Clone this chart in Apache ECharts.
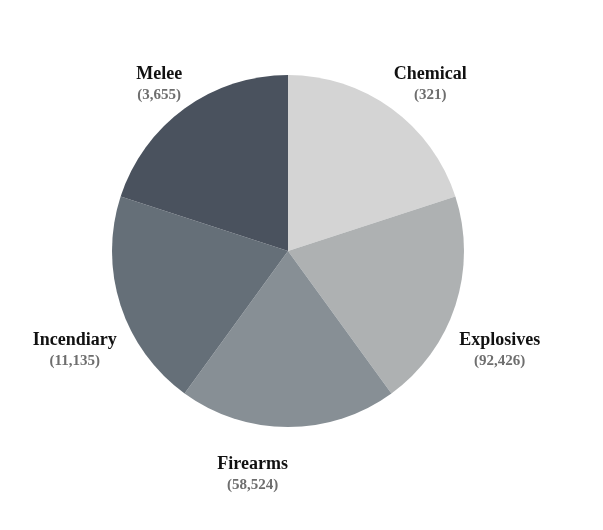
<!DOCTYPE html>
<html lang="en">
<head>
<meta charset="utf-8">
<title>Attack types</title>
<style>
  body { margin: 0; background: #fff; }
  #main { width: 603px; height: 530px; }
</style>
</head>
<body>
<div id="main"></div>
<script src="https://cdn.jsdelivr.net/npm/echarts@6/dist/echarts.min.js"></script>
<script type="text/javascript">
// categories, shown counts, slice weights (all slices drawn the same size)
var categories = ['Chemical', 'Explosives', 'Firearms', 'Incendiary', 'Melee'];
var counts = [321, 92426, 58524, 11135, 3655];
var weights = [1, 1, 1, 1, 1];
var colors = ['#d4d4d4', '#aeb1b2', '#878f95', '#656f78', '#4a525e'];

var cx = 288, cy = 251, radius = 176;
var labelR = 180;

var total = weights.reduce(function (a, b) { return a + b; }, 0);
// mid angle of every slice, degrees clockwise from 12 o'clock
var midAngles = [];
var acc = 0;
for (var i = 0; i < weights.length; i++) {
    midAngles.push((acc + weights[i] / 2) / total * 360);
    acc += weights[i];
}

var myChart = echarts.init(document.getElementById('main'));

var option = {
    animation: false,
    color: colors,
    series: [{
        type: 'pie',
        center: [cx, cy],
        radius: radius,
        startAngle: 90,
        clockwise: true,
        avoidLabelOverlap: false,
        silent: true,
        itemStyle: { borderWidth: 0 },
        labelLine: { show: false },
        label: {
            show: true,
            position: 'outside',
            formatter: function (p) {
                return '{n|' + p.name + '}\n{v|(' + counts[p.dataIndex].toLocaleString('en-US') + ')}';
            },
            rich: {
                n: {
                    fontFamily: 'Liberation Serif',
                    fontWeight: 'bold',
                    fontSize: 18,
                    color: '#111',
                    lineHeight: 21,
                    align: 'center'
                },
                v: {
                    fontFamily: 'Liberation Serif',
                    fontWeight: 'bold',
                    fontSize: 15,
                    color: '#6e6e6e',
                    lineHeight: 21,
                    align: 'center'
                }
            }
        },
        labelLayout: function (p) {
            var a = midAngles[p.dataIndex] * Math.PI / 180;
            var s = Math.sin(a), c = Math.cos(a);
            var x = cx + labelR * s;
            var y = cy - labelR * c;
            var upper = c > 0;
            return {
                x: x,
                y: upper ? y : y + 23,
                align: s > 0.01 ? 'left' : 'right',
                verticalAlign: upper ? 'bottom' : 'top'
            };
        },
        data: categories.map(function (name, i) {
            return { name: name, value: weights[i] };
        })
    }]
};

myChart.setOption(option);
</script>
</body>
</html>
